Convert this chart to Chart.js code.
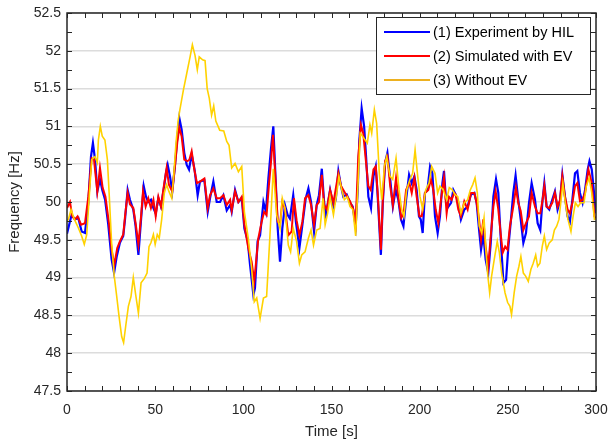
<!DOCTYPE html>
<html>
<head>
<meta charset="utf-8">
<title>Frequency</title>
<script src="https://cdn.jsdelivr.net/npm/chart.js@4/dist/chart.umd.min.js"></script>
<style>
  html, body { margin: 0; padding: 0; background: #fff; }
  #wrap { width: 609px; height: 448px; }
</style>
</head>
<body>
<div id="wrap"><canvas id="freqChart" width="609" height="448"></canvas></div>
<script>
// series labels
const seriesNames = ['(1) Experiment by HIL', '(2) Simulated with EV', '(3) Without EV'];

// axis ticks
const xTicks = [0, 50, 100, 150, 200, 250, 300];
const yTicks = [47.5, 48, 48.5, 49, 49.5, 50, 50.5, 51, 51.5, 52, 52.5];

// (1) experiment by HIL - time [s] / frequency [Hz]
const blueT = [0, 2.6, 4.5, 6.4, 8.3, 10.2, 12.1, 13.6, 14.7, 15.9, 17.2, 18.7, 20, 21.6, 23.4, 25.3, 26.7, 28.2, 30, 31.9,
  32.9, 34.4, 35.7, 37.6, 38.9, 40.5, 42, 43.5, 44.8, 46.1, 47.6, 49, 50.3, 51.8, 53.3, 54.8, 56.1, 57.1, 58.4, 59.7,
  61.2, 62.6, 63.7, 65, 66.5, 67.9, 69.2, 70.7, 72.4, 74.1, 75.4, 77.9, 79.8, 81.1, 83, 84.9, 86.8, 88.7, 90.6, 92.5,
  93.4, 95.3, 97.2, 99.1, 100.6, 102.5, 103.8, 105.7, 106.6, 108.1, 109.5, 111.4, 112.8, 114.2, 115.7, 117, 118.3, 119.5, 120.8, 122.1,
  123.6, 125.1, 126.4, 128.3, 129.8, 131.8, 133.5, 135.4, 136.9, 138.4, 140.1, 141.6, 142.9, 144.5, 145.8, 146.8, 149.2, 151.1, 152.4, 153.9,
  155.4, 156.7, 158.6, 160.5, 162, 163.7, 164.9, 165.8, 167.1, 168.5, 169.6, 170.9, 172.4, 173.8, 175.1, 176.2, 178, 179.1, 180.4, 181.7,
  183.3, 184.8, 186.4, 187.9, 189.4, 190.8, 192.3, 194, 195.5, 197, 198.3, 199.6, 200.6, 201.7, 203, 204.4, 205.9, 207.2, 208.7, 210.2,
  211.5, 212.9, 213.8, 214.9, 216.3, 217.8, 219.1, 220.4, 221.8, 223.4, 225.3, 227.2, 229.1, 231, 232.3, 233.7, 234.8, 236.1, 237.4, 238.9,
  240.3, 241.8, 243.3, 244.6, 245.9, 247.5, 249, 250.3, 251.6, 253.1, 254.4, 255.9, 257.3, 258.8, 260.3, 262, 263.5, 265.4, 266.9, 268.4,
  269.7, 270.7, 272, 273.5, 275.2, 276.7, 278.2, 279.6, 280.9, 282.4, 283.9, 285.2, 286.6, 288.1, 289.4, 290.9, 292.4, 293.8, 295.3, 296.3,
  297.6, 299.1, 300];
const blueF = [49.58, 49.83, 49.77, 49.79, 49.61, 49.59, 49.99, 50.6, 50.78, 50.56, 50.14, 50.3, 50.16, 50.03, 49.7, 49.24, 49.06, 49.28, 49.46, 49.55,
  49.77, 50.16, 50.03, 49.9, 49.68, 49.3, 49.77, 50.21, 50.07, 50, 50.03, 49.92, 49.85, 50.05, 49.94, 50.16, 50.38, 50.49, 50.34, 50.14,
  50.47, 50.87, 51.11, 50.96, 50.65, 50.49, 50.43, 50.63, 50.42, 50.09, 50.27, 50.29, 49.87, 50.05, 50.27, 50, 50, 50.09, 49.89, 49.96,
  49.87, 50.16, 50, 50.05, 49.65, 49.48, 49.17, 48.77, 48.86, 49.48, 49.56, 50, 49.87, 50.31, 50.71, 51, 50.31, 49.65, 49.21, 49.65,
  49.96, 49.83, 49.78, 50.09, 49.74, 49.39, 49.7, 50.05, 50.18, 50, 49.61, 49.96, 50.09, 50.44, 50, 49.82, 50.16, 49.94, 50.03, 50.41,
  50.21, 50.07, 50.1, 49.99, 49.94, 49.68, 50.16, 50.82, 51.24, 51, 50.6, 50.07, 49.92, 50.34, 50.47, 50.07, 49.3, 49.99, 50.52, 50.65,
  50.3, 49.94, 50.16, 50.03, 49.77, 49.68, 50.03, 50.36, 50.25, 50.34, 50.16, 49.81, 49.77, 49.59, 50.12, 50.16, 50.47, 50.38, 49.81, 49.59,
  49.81, 50.25, 50.41, 50.03, 49.94, 49.99, 50.16, 50.1, 50.0, 49.77, 49.9, 49.94, 50.1, 50.12, 49.99, 49.63, 49.37, 49.57, 49.24, 49.06,
  49.46, 50.07, 50.3, 50.12, 49.55, 48.93, 48.97, 49.41, 49.72, 50.12, 50.35, 50.03, 49.77, 49.46, 49.59, 49.99, 50.25, 50.03, 49.72, 49.63,
  50.03, 50.25, 49.94, 49.9, 50.03, 50.14, 49.9, 50.01, 50.36, 50.07, 49.81, 49.74, 50.03, 50.38, 50.41, 50.12, 49.99, 50.16, 50.43, 50.54,
  50.43, 50.07, 49.85];

// (2) simulated with EV
const redT = [0, 1.7, 3, 4.5, 6, 8, 10.2, 12.1, 14, 15.3, 17.2, 18.7, 20.2, 21.8, 23.8, 25.3, 26.8, 28.5, 30, 31.9,
  32.9, 34.4, 35.7, 37.6, 38.9, 40.5, 42, 43.1, 44.6, 46.1, 47.6, 49, 50.3, 51.8, 53.3, 54.8, 56.5, 57.8, 59.7, 61.2,
  62.6, 63.7, 65, 66.5, 68.3, 69.4, 70.7, 72.2, 73.7, 75.4, 77.9, 79.8, 81.1, 83, 84.9, 86.8, 88.7, 90.6, 92.5, 93.4,
  95.3, 97.2, 99.1, 100.6, 102.8, 104.7, 106.2, 107.6, 108.5, 110.4, 111.8, 113.2, 114.5, 115.7, 116.8, 117.9, 119.5, 120.8, 122.1, 123.6,
  125.5, 127.4, 128.7, 130.2, 131.8, 133.5, 135, 136.9, 138.4, 140.1, 141.6, 142.9, 144.5, 145.8, 147.3, 149.2, 151.1, 153.9, 155.4, 157.7,
  160.5, 162.4, 163.7, 165.2, 166.7, 168, 169.6, 170.9, 172.2, 173.8, 175.1, 176.2, 178, 179.1, 180.4, 181.7, 183.3, 184.8, 186.6, 188.3,
  189.6, 190.9, 192.3, 194.2, 195.5, 197, 198.3, 199.9, 201.2, 203, 204.9, 206.4, 207.7, 209.1, 210.6, 212.1, 213.8, 215.3, 216.6, 218.1,
  219.6, 220.4, 221.9, 223.4, 225.3, 227.2, 229.1, 231, 232.3, 233.7, 234.8, 236.1, 237.4, 238.9, 240.3, 241.8, 243.1, 244.6, 245.9, 247.1,
  248.5, 249.8, 251.2, 253.1, 254.6, 255.9, 257.3, 258.8, 260.3, 262, 263.5, 265.4, 266.9, 268.4, 269.7, 270.7, 272, 273.5, 275.2, 276.7,
  278.2, 279.6, 280.9, 282.4, 283.9, 285.2, 286.6, 288.1, 289.4, 290.9, 292.4, 293.8, 295.7, 297.6, 299.1, 300];
const redF = [49.92, 50, 49.81, 49.77, 49.81, 49.7, 49.72, 50.07, 50.58, 50.56, 50.14, 50.45, 50.19, 50.07, 49.72, 49.37, 49.17, 49.39, 49.48, 49.57,
  49.81, 50.12, 49.97, 49.92, 49.72, 49.44, 49.81, 50.14, 49.94, 50.05, 49.92, 50.03, 49.81, 50.07, 49.94, 50.19, 50.45, 50.23, 50.14, 50.47,
  50.8, 50.98, 50.87, 50.56, 50.54, 50.56, 50.67, 50.43, 50.25, 50.27, 50.31, 49.92, 50.09, 50.18, 50.05, 50.05, 50.09, 49.96, 50.03, 49.89,
  50.14, 50, 50.07, 49.7, 49.39, 49.21, 48.95, 49.3, 49.52, 49.74, 49.87, 49.83, 50.22, 50.53, 50.89, 50.44, 49.74, 49.7, 50, 49.92,
  49.56, 49.61, 50.05, 49.76, 49.56, 49.74, 50.05, 50.09, 49.96, 49.7, 49.96, 50, 50.36, 49.96, 49.9, 50.16, 49.99, 50.38, 50.21, 50.12,
  50.01, 49.9, 49.72, 50.6, 51.02, 50.91, 50.52, 50.21, 50.16, 50.43, 50.47, 50.12, 49.37, 50.03, 50.54, 50.6, 50.21, 49.96, 50.32, 49.99,
  49.79, 49.85, 50.16, 50.25, 50.12, 50.32, 50.07, 49.81, 49.81, 50.12, 50.16, 50.3, 50.16, 49.9, 49.72, 50.03, 50.32, 49.85, 50.07, 50.03,
  50.12, 50.1, 49.9, 49.81, 50.01, 49.9, 50.12, 50.12, 49.99, 49.77, 49.5, 49.77, 49.41, 49.15, 49.55, 49.94, 50.14, 49.9, 49.59, 49.33,
  49.41, 49.37, 49.68, 49.94, 50.19, 49.99, 49.88, 49.63, 49.72, 49.81, 50.12, 49.94, 49.85, 49.85, 50.03, 50.21, 49.94, 49.92, 49.99, 50.12,
  49.94, 50.03, 50.34, 50.07, 49.9, 49.85, 49.99, 50.21, 50.25, 50.01, 50.03, 50.12, 50.43, 50.25, 49.81, 49.78];

// (3) without EV
const yelT = [0, 0.8, 2.3, 4.2, 6.4, 8.3, 9.8, 11.2, 12.5, 14, 15.9, 17.2, 17.8, 18.9, 20, 21.5, 22.9, 24, 25.3, 26.8,
  28.2, 29.5, 31, 32.1, 33.3, 34.8, 36.3, 37.6, 38.9, 40.5, 42, 43.9, 45.4, 46.5, 47.6, 49, 50, 51.2, 52.3, 53.7,
  55.2, 56.5, 57.8, 59.4, 60.5, 61.8, 63.1, 64, 66, 67.9, 69.8, 71.1, 72.6, 73.9, 75, 76.9, 78.3, 79.5, 80.7, 82,
  83.2, 84.4, 86.6, 88.9, 90.6, 91.9, 93.4, 95.3, 97.2, 99.1, 100.6, 102.8, 104.7, 106.2, 107.6, 109.5, 111.4, 113.2, 115.1, 117,
  118.9, 120.8, 122.1, 123.6, 125.5, 126.8, 128.3, 130.2, 131.8, 133.1, 135, 136.9, 138.4, 139.8, 141.6, 143.5, 145.2, 146.4, 147.8, 149.2,
  151.1, 153, 154.2, 155.8, 157.3, 159, 160.5, 162.1, 163.7, 164.9, 166.3, 167.6, 169.1, 170.3, 171.8, 172.8, 174.3, 175.6, 177.1, 178.5,
  180, 181.3, 183.2, 184.7, 186.6, 188.3, 189.8, 191.1, 192.6, 194.5, 196, 197.4, 198.9, 200.2, 201.7, 203.4, 205.3, 206.8, 208.7, 210.2,
  211.5, 213.4, 215.3, 216.8, 218.5, 220, 221.6, 223.4, 225.3, 227.2, 228.7, 230.1, 231.4, 232.7, 233.8, 235.2, 236.5, 237.4, 238.5, 239.7,
  240.8, 242.3, 244, 245.2, 246.5, 248.4, 249.9, 251.2, 252.1, 253.6, 255, 256.3, 257.4, 258.8, 260.1, 261.6, 263.1, 264.4, 265.8, 266.9,
  268.2, 269.5, 270.7, 272, 273.5, 275.2, 276.4, 277.7, 279, 280.2, 281.2, 282.6, 284.1, 285.8, 287, 288.3, 289.8, 291.3, 293.2, 294.5,
  296.1, 297.6, 299.1, 300];
const yelF = [49.75, 49.77, 49.9, 49.77, 49.66, 49.55, 49.44, 49.57, 50.03, 50.56, 50.6, 50.52, 50.82, 51, 50.87, 50.82, 50.56, 50.07, 49.46, 49.02,
  48.75, 48.49, 48.22, 48.14, 48.36, 48.62, 48.75, 49, 48.78, 48.53, 48.93, 48.99, 49.06, 49.41, 49.46, 49.57, 49.44, 49.57, 49.52, 49.77,
  50.12, 50.23, 50.14, 50.05, 50.34, 50.78, 51.09, 51.22, 51.48, 51.7, 51.92, 52.08, 51.94, 51.75, 51.92, 51.88, 51.87, 51.5, 51.37, 51.15,
  51.27, 51.07, 50.95, 50.94, 50.8, 50.75, 50.45, 50.51, 50.4, 50.47, 49.87, 49.52, 49.12, 48.68, 48.73, 48.46, 48.73, 48.75, 49.56, 50.44,
  49.83, 49.65, 50.05, 49.92, 49.43, 49.34, 49.65, 49.48, 49.19, 49.3, 49.34, 49.52, 49.63, 49.43, 49.63, 49.65, 50.05, 49.7, 49.85, 50.07,
  49.83, 50.12, 50.34, 50.16, 50.03, 50.07, 49.94, 49.9, 49.55, 50.16, 50.91, 50.87, 50.82, 50.78, 51.02, 50.91, 51.22, 51.04, 50.38, 50.03,
  50.47, 50.6, 50.34, 50.3, 50.58, 50.16, 49.9, 49.81, 50.16, 50.3, 50.38, 50.69, 50.34, 50.07, 49.9, 50.16, 50.25, 50.47, 50.38, 50.12,
  50.21, 50.16, 50.03, 50.19, 50.16, 50.1, 50.07, 49.85, 49.99, 50.03, 50.16, 50.23, 50.32, 50.12, 49.68, 49.59, 49.79, 49.41, 49.06, 48.8,
  49.02, 49.24, 49.48, 49.33, 49.06, 48.8, 48.67, 48.62, 48.51, 48.8, 49.02, 49.15, 49.28, 49.06, 49.02, 48.95, 49.11, 49.19, 49.3, 49.15,
  49.19, 49.41, 49.55, 49.37, 49.46, 49.5, 49.63, 49.68, 49.77, 50.03, 50.25, 49.99, 49.77, 49.61, 49.81, 49.99, 49.94, 49.99, 49.99, 50.21,
  50.32, 50.12, 49.77, 49.78];

const FONT = "'Liberation Sans', Arial, Helvetica, sans-serif";
const AXIS_COLOR = '#262626';

function pairs(ts, vs) {
  return ts.map((t, i) => ({ x: t, y: vs[i] }));
}

// box around the plot with inward ticks (minor ticks included, like matlab)
const axesBox = {
  id: 'axesBox',
  afterDatasetsDraw(chart) {
    const { ctx, chartArea: a, scales: { x, y } } = chart;
    ctx.save();
    ctx.strokeStyle = AXIS_COLOR;
    ctx.lineWidth = 1.5;
    ctx.strokeRect(a.left, a.top, a.right - a.left, a.bottom - a.top);
    ctx.lineWidth = 1;
    ctx.beginPath();
    for (let t = 0; t <= 300; t += 10) {
      const px = Math.round(x.getPixelForValue(t)) + 0.5;
      ctx.moveTo(px, a.bottom); ctx.lineTo(px, a.bottom - 5);
      ctx.moveTo(px, a.top); ctx.lineTo(px, a.top + 5);
    }
    for (let v = 47.5; v <= 52.5001; v += 0.25) {
      const py = Math.round(y.getPixelForValue(v)) + 0.5;
      ctx.moveTo(a.left, py); ctx.lineTo(a.left + 5, py);
      ctx.moveTo(a.right, py); ctx.lineTo(a.right - 5, py);
    }
    ctx.stroke();
    ctx.restore();
  }
};

// legend box in the upper right corner
const legendColors = ['#0000ff', '#ff0000', '#edb120'];
const boxLegend = {
  id: 'boxLegend',
  afterDraw(chart) {
    const { ctx } = chart;
    const bx = 376, by = 17, bw = 214, bh = 77;
    ctx.save();
    ctx.fillStyle = '#ffffff';
    ctx.fillRect(bx, by, bw, bh);
    ctx.strokeStyle = AXIS_COLOR;
    ctx.lineWidth = 1;
    ctx.strokeRect(bx + 0.5, by + 0.5, bw, bh);
    ctx.font = '14.5px ' + FONT;
    ctx.textBaseline = 'middle';
    seriesNames.forEach((name, i) => {
      const ry = by + 15 + i * 24;
      ctx.strokeStyle = legendColors[i];
      ctx.lineWidth = 2;
      ctx.beginPath();
      ctx.moveTo(bx + 8, ry);
      ctx.lineTo(bx + 54, ry);
      ctx.stroke();
      ctx.fillStyle = '#000000';
      ctx.fillText(name, bx + 57, ry + 1);
    });
    ctx.restore();
  }
};

const ctx = document.getElementById('freqChart').getContext('2d');
const freqChart = new Chart(ctx, {
  type: 'line',
  data: {
    datasets: [
      { label: seriesNames[0], data: pairs(blueT, blueF), borderColor: '#0000ff', borderWidth: 2.2, order: 3 },
      { label: seriesNames[1], data: pairs(redT, redF), borderColor: '#ff0000', borderWidth: 2, order: 2 },
      { label: seriesNames[2], data: pairs(yelT, yelF), borderColor: '#ffd200', borderWidth: 1.6, order: 1 }
    ]
  },
  options: {
    responsive: false,
    animation: false,
    parsing: false,
    elements: {
      point: { radius: 0 },
      line: { tension: 0, fill: false }
    },
    layout: { padding: { top: 13, right: 13, left: 0, bottom: 0 } },
    plugins: {
      legend: { display: false },
      tooltip: { enabled: false }
    },
    scales: {
      x: {
        type: 'linear',
        min: 0,
        max: 300,
        afterBuildTicks: (scale) => { scale.ticks = xTicks.map(v => ({ value: v })); },
        afterFit: (scale) => {
          scale.height = 57;
          scale.paddingLeft = 0;
          scale.paddingRight = 0;
        },
        grid: { display: false, drawTicks: false },
        border: { display: false },
        ticks: {
          color: AXIS_COLOR,
          font: { family: FONT, size: 14 },
          padding: 11,
          maxRotation: 0,
          callback: (v) => String(v)
        },
        title: {
          display: true,
          text: 'Time [s]',
          color: AXIS_COLOR,
          font: { family: FONT, size: 15 },
          padding: { top: 0, bottom: 7 }
        }
      },
      y: {
        type: 'linear',
        min: 47.5,
        max: 52.5,
        afterBuildTicks: (scale) => { scale.ticks = yTicks.map(v => ({ value: v })); },
        afterFit: (scale) => {
          scale.width = 67;
          scale.paddingTop = 0;
          scale.paddingBottom = 0;
        },
        grid: { color: '#dcdcdc', lineWidth: 1.5, drawTicks: false },
        border: { display: false },
        ticks: {
          color: AXIS_COLOR,
          font: { family: FONT, size: 14 },
          padding: 6,
          callback: (v) => String(v)
        },
        title: {
          display: true,
          text: 'Frequency [Hz]',
          color: AXIS_COLOR,
          font: { family: FONT, size: 15 },
          padding: { top: 6, bottom: 0 }
        }
      }
    }
  },
  plugins: [axesBox, boxLegend]
});
</script>
</body>
</html>
